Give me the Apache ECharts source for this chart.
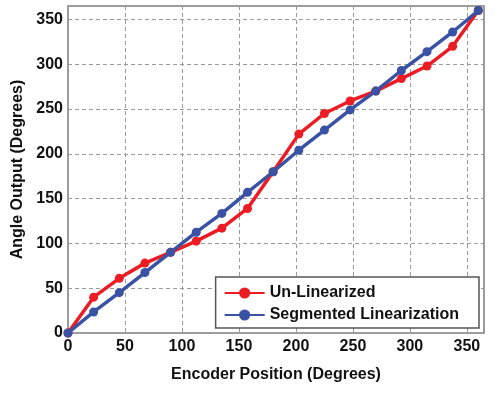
<!DOCTYPE html>
<html><head><meta charset="utf-8">
<script src="https://cdn.jsdelivr.net/npm/echarts@6/dist/echarts.min.js"></script>
<style>html,body{margin:0;padding:0;background:#fff}#c{width:500px;height:396px}</style>
</head><body><div id="c"></div>
<script>
var encoderPos = [0, 22.5, 45, 67.5, 90, 112.5, 135, 157.5, 180, 202.5, 225, 247.5, 270, 292.5, 315, 337.5, 360];
var unLinearized = [0, 40, 61, 78, 90, 102.5, 117, 139, 180, 222, 245, 259, 270, 284, 298, 320, 360];
var segmented = [0, 23.5, 45, 67.5, 90, 112.5, 133.5, 157, 180, 204, 226.5, 249, 270, 293, 314, 336, 360];
var xTicks = [0, 50, 100, 150, 200, 250, 300, 350];
var yTicks = [0, 50, 100, 150, 200, 250, 300, 350];

function pairs(xs, ys) { return xs.map(function (x, i) { return [x, ys[i]]; }); }
var font = 'Liberation Sans, Arial, sans-serif';
var chart = echarts.init(document.getElementById('c'));
chart.setOption({
  animation: false,
  textStyle: { fontFamily: font },
  grid: { left: 68, right: 16, top: 6, bottom: 63, show: true, borderColor: '#7f7f7f', borderWidth: 1.5 },
  xAxis: {
    type: 'value', min: 0, max: 365, interval: 50,
    name: 'Encoder Position (Degrees)', nameLocation: 'middle', nameGap: 34,
    nameTextStyle: { fontSize: 16, fontWeight: 'bold', color: '#111', fontFamily: font },
    axisLine: { show: false }, axisTick: { show: false },
    axisLabel: { fontSize: 16, fontWeight: 'bold', color: '#111', margin: 6, fontFamily: font,
      formatter: function (v) { return xTicks.indexOf(v) >= 0 ? String(v) : ''; } },
    splitLine: { show: true, lineStyle: { type: [4, 3], color: '#9a9a9a', width: 1 } }
  },
  yAxis: {
    type: 'value', min: 0, max: 365, interval: 50,
    name: 'Angle Output (Degrees)', nameLocation: 'middle', nameGap: 35,
    nameTextStyle: { fontSize: 16, fontWeight: 'bold', color: '#111', fontFamily: font },
    axisLine: { show: false }, axisTick: { show: false },
    axisLabel: { fontSize: 16, fontWeight: 'bold', color: '#111', margin: 5, fontFamily: font,
      formatter: function (v) { return yTicks.indexOf(v) >= 0 ? String(v) : ''; } },
    splitLine: { show: true, lineStyle: { type: [4, 3], color: '#9a9a9a', width: 1 } }
  },
  legend: {
    right: 21, top: 277, orient: 'vertical',
    backgroundColor: '#fff', borderColor: '#555', borderWidth: 1.5, borderRadius: 0,
    padding: [8, 20, 5, 8], itemWidth: 40, itemHeight: 14, itemGap: 6,
    textStyle: { fontSize: 16, lineHeight: 16, fontWeight: 'bold', color: '#111', fontFamily: font },
    data: ['Un-Linearized', 'Segmented Linearization']
  },
  series: [
    { name: 'Un-Linearized', type: 'line', data: pairs(encoderPos, unLinearized),
      symbol: 'circle', symbolSize: 9, color: '#ec1c24',
      lineStyle: { width: 3.5, color: '#ec1c24' }, itemStyle: { color: '#ec1c24' } },
    { name: 'Segmented Linearization', type: 'line', data: pairs(encoderPos, segmented),
      symbol: 'circle', symbolSize: 9, color: '#3a52a3',
      lineStyle: { width: 3.5, color: '#3a52a3' }, itemStyle: { color: '#3a52a3' } }
  ]
});
</script></body></html>
